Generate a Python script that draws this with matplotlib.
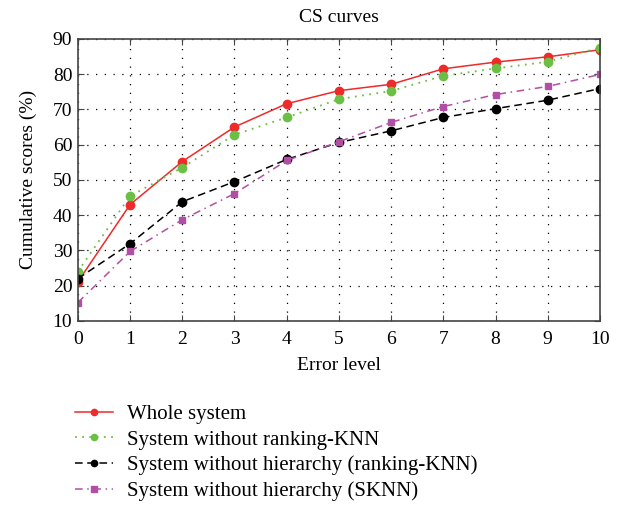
import numpy as np
import matplotlib
matplotlib.use("Agg")
import matplotlib.pyplot as plt

plt.rcParams['font.family'] = ['Liberation Serif', 'DejaVu Serif']

# Niveis de erro e curvas CS
error_level = [0, 1, 2, 3, 4, 5, 6, 7, 8, 9, 10]
whole_system = [21.1, 43.0, 55.2, 65.0, 71.6, 75.3, 77.1, 81.5, 83.4, 84.9, 86.9]
no_ranking_knn = [24.0, 45.4, 53.5, 62.8, 67.7, 72.9, 75.2, 79.5, 81.6, 83.5, 87.5]
no_hier_ranking = [22.0, 31.9, 43.8, 49.5, 55.8, 60.6, 63.9, 67.7, 70.2, 72.6, 75.9]
no_hier_sknn = [15.2, 29.7, 38.7, 46.1, 55.5, 60.8, 66.3, 70.8, 74.2, 76.5, 79.9]

labels = ['Whole system',
          'System without ranking-KNN',
          'System without hierarchy (ranking-KNN)',
          'System without hierarchy (SKNN)']

fs = 14

fig = plt.figure(figsize=(6.23, 5.11), dpi=100)
ax = fig.add_axes([0.125, 0.372, 0.838, 0.552])

ax.plot(error_level, whole_system, color='#ee2a2a', linestyle='-', lw=1.1,
        marker='o', markersize=6, label=labels[0])
ax.plot(error_level, no_ranking_knn, color='#6bbf45', linestyle=(0, (1, 3)), lw=1.3,
        marker='o', markersize=6, label=labels[1])
ax.plot(error_level, no_hier_ranking, color='black', linestyle=(0, (5, 3)), lw=1.1,
        marker='o', markersize=6, label=labels[2])
ax.plot(error_level, no_hier_sknn, color='#b04fa4', linestyle=(0, (5, 3, 1, 3)), lw=1.1,
        marker='s', markersize=5, label=labels[3])

ax.set_xlim(0, 10)
ax.set_ylim(10, 90)
ax.set_xticks(range(0, 11))
ax.set_yticks(range(10, 91, 10))
ax.grid(True, color='black', linestyle=(0, (1, 6)), linewidth=0.9)
ax.tick_params(direction='in', top=True, right=True, labelsize=fs, length=4,
               pad=4, color='#444444')
ax.tick_params(axis='x', pad=7)
for s in ax.spines.values():
    s.set_color('#444444')
    s.set_linewidth(1.2)

ax.set_title('CS curves', fontsize=fs, pad=12)
ax.set_xlabel('Error level', fontsize=fs, labelpad=7)
ax.set_ylabel('Cumulative scores (%)', fontsize=fs, labelpad=11)

fig.legend(loc='upper left', bbox_to_anchor=(0.12, 0.208), frameon=False,
           fontsize=15, handlelength=1.83, handletextpad=0.67, labelspacing=0.28,
           borderpad=0, borderaxespad=0, markerscale=0.75)

fig.savefig('out.png', dpi=100)
